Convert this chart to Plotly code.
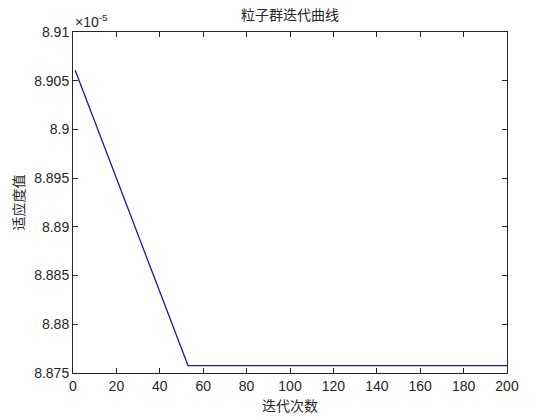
import plotly.graph_objects as go

iterations = [1, 53, 200]
fitness = [8.90607e-5, 8.87576e-5, 8.87576e-5]
y_ticks = [8.875, 8.88, 8.885, 8.89, 8.895, 8.9, 8.905, 8.91]
y_tick_labels = ["8.875", "8.88", "8.885", "8.89", "8.895", "8.9", "8.905", "8.91"]
x_ticks = [0, 20, 40, 60, 80, 100, 120, 140, 160, 180, 200]

fig = go.Figure()
fig.add_trace(go.Scatter(x=iterations, y=fitness, mode="lines",
                         line=dict(color="#1c1ca0", width=1.3), showlegend=False))

axis_common = dict(showline=True, linecolor="#262626", linewidth=1, mirror="ticks",
                   ticks="inside", ticklen=5, tickcolor="#262626", showgrid=False,
                   zeroline=False, automargin=False,
                   tickfont=dict(family="Liberation Sans, Arial", size=14, color="#262626"))

fig.update_layout(
    width=552, height=412,
    margin=dict(l=65, r=53, t=24, b=47),
    paper_bgcolor="white", plot_bgcolor="white",
    xaxis=dict(range=[0, 200], tickvals=x_ticks, title=dict(text="迭代次数", standoff=8,
               font=dict(family="Noto Sans CJK SC", size=14, color="#262626")), **axis_common),
    yaxis=dict(range=[8.875e-5, 8.91e-5], tickvals=[v * 1e-5 for v in y_ticks], ticktext=y_tick_labels,
               title=dict(text="适应度值", standoff=7,
               font=dict(family="Noto Sans CJK SC", size=14, color="#262626")), **axis_common),
)
fig.add_annotation(text="粒子群迭代曲线", xref="paper", yref="paper", x=0.5, y=1.0,
                   xanchor="center", yanchor="bottom", showarrow=False, yshift=6,
                   font=dict(family="Noto Sans CJK SC", size=14, color="#262626"))
fig.add_annotation(text="×10<sup>-5</sup>", xref="paper", yref="paper", x=0, y=1.0,
                   xanchor="left", yanchor="bottom", showarrow=False, yshift=0,
                   font=dict(family="Liberation Sans, Arial", size=14, color="#262626"))

fig.write_html("out.html")
